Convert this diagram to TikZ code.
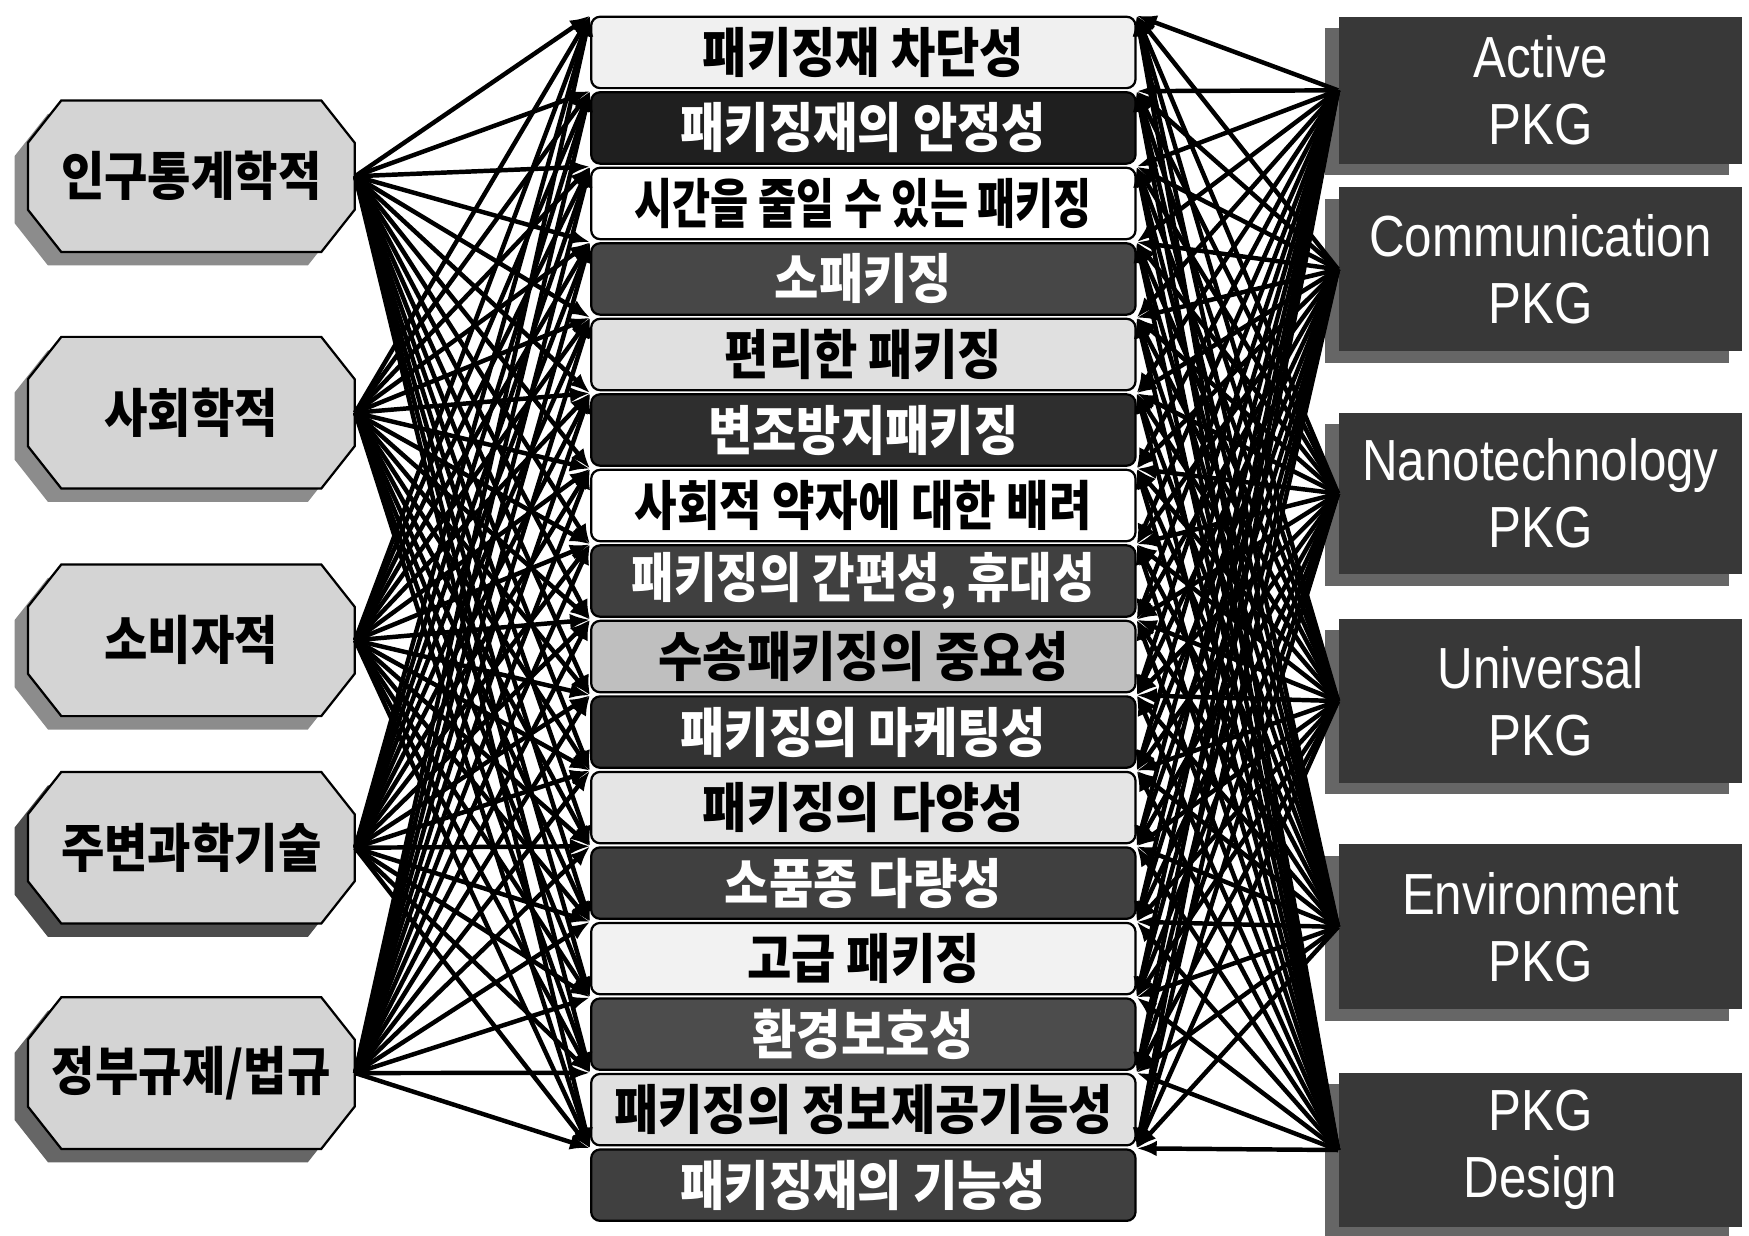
\documentclass[tikz,border=0pt]{standalone}
\usepackage{fontspec}
\usepackage{graphicx}
\usetikzlibrary{arrows.meta}
\newfontfamily\kr{Noto Sans CJK KR}[FakeStretch=0.9]
\newfontfamily\en{Liberation Sans}[FakeStretch=0.85]
\begin{document}
\begin{tikzpicture}[x=0.5pt,y=-0.5pt]
\useasboundingbox (0,0) rectangle (1568,1108);
\tikzset{
  midbox/.style={draw=black, line width=1pt, rounded corners=4pt, minimum width=244pt,
    minimum height=32pt, inner sep=0pt, font=\kr\bfseries\fontsize{24pt}{24pt}\selectfont},
  lt/.style={midbox, fill=#1, text=black},
  dk/.style={midbox, fill=#1, text=white},
  leftbox/.style={minimum width=146.5pt, minimum height=68pt, inner sep=0pt,
    font=\kr\bfseries\fontsize{23.5pt}{23.5pt}\selectfont},
  rightbox/.style={fill=black!78, minimum width=181pt, minimum height=#1, inner sep=0pt,
    text=white, align=center, font=\en\fontsize{26pt}{30pt}\selectfont},
  octa/.pic={\path[pic actions] (-146.5,-30) -- (-116.5,-68) -- (116.5,-68) -- (146.5,-30)
     -- (146.5,30) -- (116.5,68) -- (-116.5,68) -- (-146.5,30) -- cycle;},
  lshadow/.style={fill=#1},
  lface/.style={fill=black!17, draw=black, line width=1pt},
  rshadow/.style={fill=black!60},
  conn/.style={line width=2pt, -{Latex[length=9pt,width=7pt]}},
}
% ---------- middle column ----------
\node[lt=black!6]  (m1)  at (774,47)     {패키징재 차단성};
\node[dk=black!88] (m2)  at (774,114.7)  {패키징재의 안정성};
\node[lt=white]    (m3)  at (774,182.4)  {\scalebox{0.86}[1]{시간을 줄일 수 있는 패키징}};
\node[dk=black!72] (m4)  at (774,250.1)  {소패키징};
\node[lt=black!12] (m5)  at (774,317.8)  {편리한 패키징};
\node[dk=black!82] (m6)  at (774,385.5)  {변조방지패키징};
\node[lt=white]    (m7)  at (774,453.2)  {\scalebox{0.96}[1]{사회적 약자에 대한 배려}};
\node[dk=black!75] (m8)  at (774,520.9)  {\scalebox{0.96}[1]{패키징의 간편성, 휴대성}};
\node[lt=black!25] (m9)  at (774,588.6)  {수송패키징의 중요성};
\node[dk=black!80] (m10) at (774,656.3)  {패키징의 마케팅성};
\node[lt=black!10] (m11) at (774,724)    {패키징의 다양성};
\node[dk=black!75] (m12) at (774,791.7)  {소품종 다량성};
\node[lt=black!5]  (m13) at (774,859.4)  {고급 패키징};
\node[dk=black!70] (m14) at (774,927.1)  {환경보호성};
\node[lt=black!12] (m15) at (774,994.8)  {패키징의 정보제공기능성};
\node[dk=black!75] (m16) at (774,1062.5) {패키징재의 기능성};
% ---------- left column ----------
\pic[lshadow=black!45] at (159.5,170) {octa};
\pic[lface] at (171.5,158) {octa};
\node[leftbox] (l1) at (171.5,158) {인구통계학적};
\pic[lshadow=black!45] at (159.5,382) {octa};
\pic[lface] at (171.5,370) {octa};
\node[leftbox] (l2) at (171.5,370) {사회학적};
\pic[lshadow=black!45] at (159.5,586) {octa};
\pic[lface] at (171.5,574) {octa};
\node[leftbox] (l3) at (171.5,574) {소비자적};
\pic[lshadow=black!70] at (159.5,772) {octa};
\pic[lface] at (171.5,760) {octa};
\node[leftbox] (l4) at (171.5,760) {주변과학기술};
\pic[lshadow=black!60] at (159.5,974) {octa};
\pic[lface] at (171.5,962) {octa};
\node[leftbox] (l5) at (171.5,962) {정부규제/법규};
% ---------- right column ----------
\fill[rshadow] (1188,25) rectangle (1550,157);
\node[rightbox=66pt] (r1) at (1381,81) {Active\\PKG};
\fill[rshadow] (1188,178) rectangle (1550,325);
\node[rightbox=73.5pt] (r2) at (1381,241.5) {Communication\\PKG};
\fill[rshadow] (1188,380) rectangle (1550,525);
\node[rightbox=72.5pt] (r3) at (1381,442.5) {Nanotechnology\\PKG};
\fill[rshadow] (1188,565) rectangle (1550,712);
\node[rightbox=73.5pt] (r4) at (1381,628.5) {Universal\\PKG};
\fill[rshadow] (1188,767) rectangle (1550,915);
\node[rightbox=74pt] (r5) at (1381,831) {Environment\\PKG};
\fill[rshadow] (1188,972) rectangle (1550,1110);
\node[rightbox=69pt] (r6) at (1381,1031) {PKG\\Design};
% ---------- connectors ----------
\foreach \j in {1,...,5}{
  \foreach \i in {1,...,16}{
    \draw[conn] (l\j.east) -- (m\i.north west);
  }
}
\foreach \j in {1,...,6}{
  \foreach \i in {1,...,16}{
    \draw[conn] (r\j.west) -- (m\i.north east);
  }
}
\end{tikzpicture}
\end{document}
